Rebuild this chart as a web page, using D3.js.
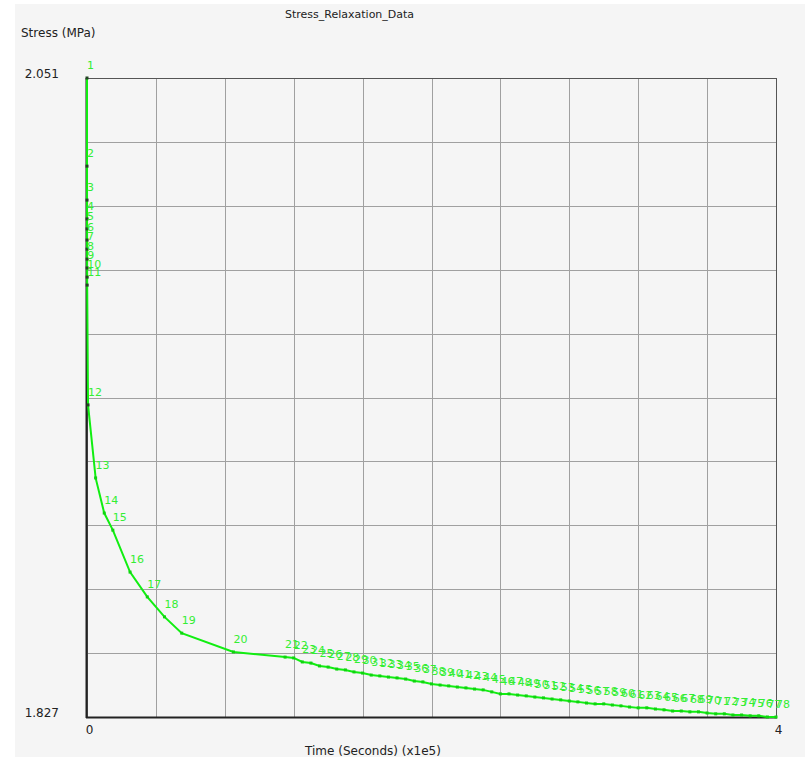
<!DOCTYPE html>
<html>
<head>
<meta charset="utf-8">
<script src="https://cdn.jsdelivr.net/npm/d3@7"></script>
<style>
  body { margin: 0; background: #fff; }
  text { font-family: "DejaVu Sans", Verdana, sans-serif; font-size: 11px; }
</style>
</head>
<body>
<div id="chart"></div>
<script>
// time in seconds, stress in MPa
const times = [
  0, 10, 20, 30, 40, 50, 60, 70, 80, 90, 100,
  600, 5000, 10000, 15000, 25000, 35000, 45000, 55000, 85000,
  115000, 120000, 125000, 130000, 135000, 140000, 145000, 150000, 155000, 160000,
  165000, 170000, 175000, 180000, 185000, 190000, 195000, 200000, 205000, 210000,
  215000, 220000, 225000, 230000, 235000, 240000, 245000, 250000, 255000, 260000,
  265000, 270000, 275000, 280000, 285000, 290000, 295000, 300000, 305000, 310000,
  315000, 320000, 325000, 330000, 335000, 340000, 345000, 350000, 355000, 360000,
  365000, 370000, 375000, 380000, 385000, 390000, 395000, 400000
];
const stress = [
  2.0510, 2.0201, 2.0082, 2.0016, 1.9981, 1.9942, 1.9910, 1.9875, 1.9844, 1.9812, 1.9784,
  1.9364, 1.9108, 1.8985, 1.8925, 1.8778, 1.8691, 1.8621, 1.8564, 1.8498,
  1.8480, 1.8477, 1.8463, 1.8459, 1.8449, 1.8445, 1.8438, 1.8435, 1.8428, 1.8424,
  1.8417, 1.8414, 1.8410, 1.8407, 1.8403, 1.8396, 1.8393, 1.8386, 1.8382, 1.8379,
  1.8375, 1.8372, 1.8368, 1.8365, 1.8358, 1.8351, 1.8351, 1.8347, 1.8344, 1.8340,
  1.8337, 1.8333, 1.8330, 1.8326, 1.8323, 1.8319, 1.8316, 1.8316, 1.8312, 1.8309,
  1.8305, 1.8302, 1.8302, 1.8298, 1.8295, 1.8291, 1.8291, 1.8288, 1.8288, 1.8284,
  1.8281, 1.8281, 1.8277, 1.8277, 1.8274, 1.8274, 1.8270, 1.8270
];
const xTickLabels = [0, 4];
const yTickLabels = [1.827, 2.051];

const width = 805, height = 757;
const margin = {top: 78, right: 29, bottom: 40, left: 87};

const data = times.map((t, i) => ({id: i + 1, t: t / 1e5, s: stress[i]}));

const svg = d3.select('#chart').append('svg')
  .attr('width', width)
  .attr('height', height);

// grey panel
svg.append('rect')
  .attr('x', 15).attr('y', 4)
  .attr('width', width - 15).attr('height', height - 4)
  .attr('fill', '#f5f5f5');

const x = d3.scaleLinear().domain([0, 4]).range([margin.left, width - margin.right]);
const y = d3.scaleLinear().domain([1.827, 2.051]).range([height - margin.bottom, margin.top]);

// grid: 10 divisions each way
const xGrid = d3.range(11).map(k => x.invert(x.range()[0] + k * (x.range()[1] - x.range()[0]) / 10));
const yGrid = d3.range(11).map(k => y.invert(y.range()[0] + k * (y.range()[1] - y.range()[0]) / 10));

const grid = svg.append('g').attr('stroke', '#a0a0a0').attr('stroke-width', 1);
grid.selectAll('line.v').data(xGrid).enter().append('line')
  .attr('class', 'v')
  .attr('x1', d => Math.round(x(d)) + 0.5).attr('x2', d => Math.round(x(d)) + 0.5)
  .attr('y1', y.range()[1]).attr('y2', y.range()[0]);
grid.selectAll('line.h').data(yGrid).enter().append('line')
  .attr('class', 'h')
  .attr('y1', d => Math.round(y(d)) + 0.5).attr('y2', d => Math.round(y(d)) + 0.5)
  .attr('x1', x.range()[0]).attr('x2', x.range()[1]);

// frame
svg.append('rect')
  .attr('x', x.range()[0] + 0.5).attr('y', y.range()[1] + 0.5)
  .attr('width', x.range()[1] - x.range()[0]).attr('height', y.range()[0] - y.range()[1])
  .attr('fill', 'none').attr('stroke', '#555').attr('stroke-width', 1);
svg.append('line')
  .attr('x1', x.range()[0] - 0.5).attr('x2', x.range()[0] - 0.5)
  .attr('y1', y.range()[1]).attr('y2', y.range()[0] + 1)
  .attr('stroke', '#222').attr('stroke-width', 2);
svg.append('line')
  .attr('x1', x.range()[0] - 1).attr('x2', x.range()[1] + 1)
  .attr('y1', y.range()[0] + 0.5).attr('y2', y.range()[0] + 0.5)
  .attr('stroke', '#222').attr('stroke-width', 2);

// axes (labels only)
const xAxis = svg.append('g')
  .attr('transform', `translate(0,${height - margin.bottom})`)
  .call(d3.axisBottom(x).tickValues(xTickLabels).tickSize(0).tickPadding(8).tickFormat(d3.format('d')));
xAxis.select('.domain').remove();
xAxis.selectAll('text').attr('fill', '#222').attr('dx', 2).style('font-size', '12px');

const yAxis = svg.append('g')
  .attr('transform', `translate(${margin.left},0)`)
  .call(d3.axisLeft(y).tickValues(yTickLabels).tickSize(0).tickPadding(28).tickFormat(d3.format('.3f')));
yAxis.select('.domain').remove();
yAxis.selectAll('text').attr('fill', '#222').attr('dy', '-0.05em').style('font-size', '12px');

// titles
svg.append('text').attr('x', 285).attr('y', 18).attr('fill', '#222').text('Stress_Relaxation_Data');
svg.append('text').attr('x', 21).attr('y', 37).attr('fill', '#222').style('font-size', '12px')
  .text('Stress (MPa)');
svg.append('text').attr('x', 373).attr('y', 755).attr('text-anchor', 'middle').attr('fill', '#222')
  .style('font-size', '12px')
  .text('Time (Seconds) (x1e5)');

// data line
const line = d3.line().x(d => x(d.t)).y(d => y(d.s));
svg.append('path').datum(data)
  .attr('d', line)
  .attr('fill', 'none')
  .attr('stroke', '#11ee11')
  .attr('stroke-width', 2);

svg.append('g').selectAll('rect').data(data).enter().append('rect')
  .attr('x', d => x(d.t) - 1.5).attr('y', d => y(d.s) - 1.5)
  .attr('width', 3).attr('height', 3)
  .attr('fill', d => d.t < 0.01 ? '#224422' : '#0fd40f');

svg.append('g').selectAll('text').data(data).enter().append('text')
  .attr('x', d => x(d.t))
  .attr('y', d => y(d.s) - 9)
  .attr('fill', '#33ee33')
  .text(d => d.id);
</script>
</body>
</html>
